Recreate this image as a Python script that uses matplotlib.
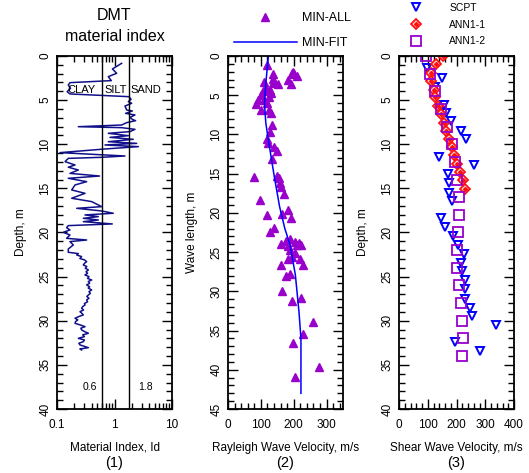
import matplotlib
matplotlib.use("Agg")
import matplotlib.pyplot as plt
from matplotlib.ticker import MultipleLocator, LogLocator, NullFormatter, FixedLocator

plt.rcParams['font.family'] = ['Liberation Sans', 'DejaVu Sans']

# --- panel 1: DMT material index profile ---
id_depth = [0.83, 1.47, 1.96, 2.34, 2.79, 3.02, 3.29, 3.66, 4.04, 4.30,
            4.61, 4.91, 5.17, 5.36, 5.67, 6.12, 6.23, 6.50, 6.68, 6.95,
            7.18, 7.33, 7.55, 7.82, 8.01, 8.12, 8.31, 8.57, 8.76, 9.03,
            9.22, 9.44, 9.71, 9.90, 10.08, 10.27, 10.54, 10.95, 11.33, 11.48,
            11.60, 11.97, 12.35, 12.60, 12.92, 13.30, 13.60, 13.86, 14.24, 14.61,
            15.18, 15.56, 16.12, 16.50, 17.07, 17.26, 17.56, 17.82, 18.01, 18.20,
            18.39, 18.58, 18.77, 19.03, 19.22, 19.45, 19.71, 19.98, 20.28, 20.66,
            20.85, 21.03, 21.41, 21.87, 22.24, 22.39, 22.55, 22.73, 22.95, 23.10,
            23.30, 23.50, 23.68, 23.85, 24.05, 24.24, 24.45, 24.62, 24.81, 25.00,
            25.20, 25.38, 25.55, 25.75, 25.94, 26.15, 26.30, 26.51, 26.70, 26.90,
            27.08, 27.25, 27.45, 27.64, 27.85, 28.05, 28.21, 28.40, 28.59, 28.78,
            28.97, 29.15, 29.34, 29.52, 29.72, 29.90, 30.10, 30.29, 30.50, 30.67,
            30.85, 31.04, 31.22, 31.42, 31.60, 31.80, 31.99, 32.18, 32.37, 32.55,
            32.74, 32.90, 33.05, 33.20, 33.31]
id_vals = [1.33, 0.92, 1.09, 0.78, 0.88, 0.168, 0.157, 0.172, 0.150, 0.168,
           1.79, 1.94, 1.74, 1.99, 1.52, 1.63, 2.04, 1.56, 2.27, 1.86,
           2.04, 2.33, 1.63, 1.33, 0.235, 1.33, 2.27, 1.86, 0.78, 1.74,
           0.836, 2.12, 0.78, 2.43, 0.684, 2.60, 0.67, 0.113, 1.52, 0.60,
           0.157, 0.138, 0.206, 0.157, 0.235, 0.168, 0.55, 0.157, 0.328, 0.206,
           0.180, 0.307, 0.180, 0.401, 0.598, 0.220, 0.598, 0.953, 0.307, 0.523,
           0.287, 0.523, 0.287, 0.916, 0.157, 0.147, 0.168, 0.129, 0.168, 0.147,
           0.328, 0.168, 0.192, 0.157, 0.157, 0.235, 0.220, 0.268, 0.250, 0.300,
           0.328, 0.300, 0.287, 0.330, 0.310, 0.351, 0.320, 0.340, 0.307, 0.360,
           0.340, 0.401, 0.350, 0.370, 0.328, 0.370, 0.350, 0.401, 0.360, 0.380,
           0.351, 0.330, 0.360, 0.328, 0.340, 0.300, 0.307, 0.280, 0.268, 0.290,
           0.251, 0.270, 0.287, 0.240, 0.206, 0.230, 0.210, 0.206, 0.260, 0.307,
           0.260, 0.268, 0.300, 0.351, 0.280, 0.300, 0.235, 0.300, 0.287, 0.240,
           0.251, 0.300, 0.351, 0.250, 0.268]
id_limits = [0.6, 1.8]
soil_names = ['CLAY', 'SILT', 'SAND']

# --- panel 2: Rayleigh wave velocity vs wave length ---
vr_all = [120, 136, 138, 136, 111, 153, 192, 182, 195, 202, 209, 199,
          115, 128, 105, 131, 101, 124, 92, 111, 85, 118, 101, 124, 130,
          135, 128, 118, 123, 141, 148, 134, 79, 149, 154, 157, 160, 170,
          97, 182, 164, 120, 192, 141, 128, 161, 176, 190, 205, 216, 209,
          184, 222, 190, 205, 184, 194, 219, 229, 161, 190, 177, 163, 194,
          223, 258, 227, 199, 278, 205]
wl_all = [1.2, 2.3, 2.9, 3.4, 3.3, 3.6, 3.6, 3.0, 2.2, 2.3, 2.6, 2.0,
          4.1, 4.3, 4.5, 4.7, 5.0, 5.2, 5.6, 5.6, 6.1, 6.0, 6.9, 6.9, 7.3,
          8.8, 9.7, 10.6, 11.1, 11.6, 12.1, 13.1, 15.4, 15.3, 15.6, 16.2, 16.7, 17.6,
          18.4, 19.6, 20.1, 20.3, 20.6, 21.9, 22.5, 24.0, 23.6, 23.3, 23.7, 23.9, 24.1,
          24.2, 24.1, 24.7, 25.1, 25.9, 25.6, 25.9, 26.6, 26.6, 27.8, 28.1, 30.0, 31.2,
          30.8, 33.9, 35.4, 36.6, 39.7, 40.9]
vr_fit = [123, 115, 111, 115, 122, 141, 157, 173, 189, 205, 216, 222, 222]
wl_fit = [0.0, 3.5, 6.0, 8.5, 10.5, 15.4, 19.2, 22.0, 24.1, 27.9, 32.6, 36.0, 43.0]

# --- panel 3: shear wave velocity ---
vs_scpt = [98, 150, 124, 157, 165, 180, 215, 232, 139, 260, 171, 174, 174,
           186, 145, 159, 188, 205, 226, 217, 219, 228, 230, 230, 246, 254,
           339, 196, 281]
d_scpt = [1.4, 2.5, 3.5, 5.5, 6.5, 7.4, 8.5, 9.4, 11.4, 12.4, 13.4, 14.4, 15.5,
          16.4, 18.4, 19.4, 20.4, 21.4, 22.4, 23.4, 24.4, 25.4, 26.4, 27.5, 28.5, 29.5,
          30.5, 32.4, 33.4]
vs_ann1 = [153, 128, 113, 113, 121, 124, 136, 145, 157, 165, 174, 185, 192,
           200, 211, 223, 229]
d_ann1 = [0.0, 0.9, 1.9, 2.8, 3.8, 4.7, 5.7, 6.6, 7.6, 8.5, 9.4, 10.3, 11.2,
          12.2, 13.2, 14.1, 15.1]
vs_ann2 = [93, 107, 124, 147, 168, 185, 196, 203, 208, 208, 205, 203, 203,
           208, 215, 219, 223, 219]
d_ann2 = [0, 2, 4, 6, 8, 10, 12, 14, 16, 18, 20, 22, 24, 26, 28, 30, 32, 34]

purple = '#9900cc'

fig = plt.figure(figsize=(5.29, 4.73), dpi=100)
W, H = 529.0, 473.0
ax1 = fig.add_axes([57 / W, 1 - 409 / H, 115 / W, 353 / H])
ax2 = fig.add_axes([228 / W, 1 - 409 / H, 115 / W, 353 / H])
ax3 = fig.add_axes([399 / W, 1 - 409 / H, 115 / W, 353 / H])


def style_axes(ax):
    for s in ax.spines.values():
        s.set_linewidth(1.3)
    ax.tick_params(which='both', direction='in', top=True, right=True,
                   labelsize=8.5, width=1.0)
    ax.tick_params(which='major', length=7)
    ax.tick_params(which='minor', length=4.5)
    ax.tick_params(axis='y', labelrotation=90, pad=4)
    for lab in ax.get_yticklabels():
        lab.set_va('center')
    ax.tick_params(axis='x', pad=7)


# panel 1
ax1.plot(id_vals, id_depth, color='#10108a', lw=1.1)
for v in id_limits:
    ax1.axvline(v, color='black', lw=1.0)
ax1.set_xscale('log')
ax1.set_xlim(0.1, 10)
ax1.set_ylim(40, 0)
ax1.xaxis.set_major_locator(FixedLocator([0.1, 1, 10]))
ax1.set_xticklabels(['0.1', '1', '10'])
ax1.xaxis.set_minor_locator(LogLocator(base=10, subs=range(2, 10)))
ax1.xaxis.set_minor_formatter(NullFormatter())
ax1.yaxis.set_major_locator(MultipleLocator(5))
ax1.yaxis.set_minor_locator(MultipleLocator(1))
style_axes(ax1)
for name, x in zip(soil_names, [0.27, 1.06, 3.5]):
    ax1.text(x, 3.85, name, ha='center', va='center', fontsize=8)
for v, x in zip(id_limits, [0.375, 3.45]):
    ax1.text(x, 37.5, str(v), ha='center', va='center', fontsize=7.5)
ax1.set_title('DMT\nmaterial index', fontsize=11.5, linespacing=1.45, pad=11)
ax1.set_xlabel('Material Index, Id', fontsize=8.5, labelpad=8)
ax1.set_ylabel('Depth, m', fontsize=8.5, labelpad=9)
ax1.text(0.5, -0.153, '(1)', transform=ax1.transAxes, ha='center',
         va='center', fontsize=10.5)

# panel 2
ax2.plot(vr_all, wl_all, linestyle='none', marker='^', ms=5.5,
         color=purple, label='MIN-ALL')
ax2.plot(vr_fit, wl_fit, color='#0000ff', lw=1.1, label='MIN-FIT')
ax2.set_xlim(0, 350)
ax2.set_ylim(45, 0)
ax2.xaxis.set_major_locator(MultipleLocator(100))
ax2.xaxis.set_minor_locator(MultipleLocator(20))
ax2.yaxis.set_major_locator(MultipleLocator(5))
ax2.yaxis.set_minor_locator(MultipleLocator(1))
style_axes(ax2)
ax2.set_xlabel('Rayleigh Wave Velocity, m/s', fontsize=8.5, labelpad=8)
ax2.set_ylabel('Wave length, m', fontsize=8.5, labelpad=9)
ax2.text(0.5, -0.153, '(2)', transform=ax2.transAxes, ha='center',
         va='center', fontsize=10.5)
ax2.legend(loc='lower left', bbox_to_anchor=(0.032, 1.013), frameon=False,
           handlelength=5.0, handletextpad=0.4, markerscale=1.15,
           labelspacing=1.0, borderpad=0.2, borderaxespad=0.0,
           prop={'size': 9})

# panel 3
h_scpt, = ax3.plot(vs_scpt, d_scpt, linestyle='none', marker='v', ms=6,
                   mfc='none', mec='#0000ff', mew=1.4)
h_ann1a, = ax3.plot(vs_ann1, d_ann1, linestyle='none', marker='D', ms=5.5,
                    mfc='#ffd0d0', mec='#ff1010', mew=1.3)
h_ann1b, = ax3.plot(vs_ann1, d_ann1, linestyle='none', marker='D', ms=2,
                    color='#ff1010')
h_ann2, = ax3.plot(vs_ann2, d_ann2, linestyle='none', marker='s', ms=7,
                   mfc='none', mec=purple, mew=1.3)
ax3.set_xlim(0, 400)
ax3.set_ylim(40, 0)
ax3.xaxis.set_major_locator(MultipleLocator(100))
ax3.xaxis.set_minor_locator(MultipleLocator(20))
ax3.yaxis.set_major_locator(MultipleLocator(5))
ax3.yaxis.set_minor_locator(MultipleLocator(1))
style_axes(ax3)
ax3.set_xlabel('Shear Wave Velocity, m/s', fontsize=8.5, labelpad=8)
ax3.set_ylabel('Depth, m', fontsize=8.5, labelpad=9)
ax3.text(0.5, -0.153, '(3)', transform=ax3.transAxes, ha='center',
         va='center', fontsize=10.5)
ax3.legend([h_scpt, (h_ann1a, h_ann1b), h_ann2], ['SCPT', 'ANN1-1', 'ANN1-2'],
           loc='lower left', bbox_to_anchor=(0.046, 1.024), frameon=False,
           fontsize=7.5, handlelength=2.0, handletextpad=2.2,
           labelspacing=0.65, borderpad=0.1, borderaxespad=0.0)

fig.savefig('out.png', dpi=100)
